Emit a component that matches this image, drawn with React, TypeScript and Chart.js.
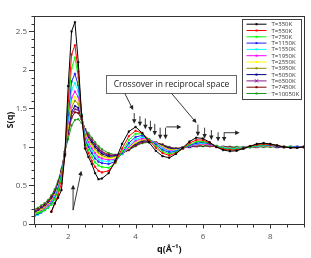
import React, { useEffect, useRef } from "react";
import { Chart, registerables } from "chart.js";

Chart.register(...registerables);

// q grid (Å⁻¹)
const Q = [
  1.0, 1.1, 1.2, 1.3, 1.4, 1.5, 1.6, 1.7, 1.8, 1.9,
  2.0, 2.1, 2.2, 2.3, 2.4, 2.5, 2.6, 2.7, 2.8, 2.9,
  3.0, 3.2, 3.4, 3.6, 3.8, 4.0, 4.2, 4.4, 4.6, 4.8,
  5.0, 5.2, 5.4, 5.6, 5.8, 6.0, 6.2, 6.4, 6.6, 6.8,
  7.0, 7.2, 7.4, 7.6, 7.8, 8.0, 8.2, 8.4, 8.6, 8.8,
  9.0,
];

const S350 = [null, null, null, null, null, 0.16, 0.27, 0.34, 0.44, 0.90,
  1.79, 2.50, 2.62, 2.10, 1.40, 0.98, 0.87, 0.78, 0.66, 0.58,
  0.59, 0.66, 0.82, 1.04, 1.20, 1.26, 1.18, 1.06, 0.95, 0.88,
  0.86, 0.91, 0.99, 1.07, 1.12, 1.11, 1.06, 1.00, 0.96, 0.945,
  0.95, 0.98, 1.01, 1.04, 1.05, 1.04, 1.02, 1.00, 0.99, 0.99,
  1.00];
const S550 = [null, null, null, null, null, 0.16, 0.26, 0.38, 0.53, 0.88,
  1.60, 2.20, 2.32, 1.98, 1.40, 1.03, 0.92, 0.82, 0.74, 0.69,
  0.67, 0.69, 0.80, 0.98, 1.14, 1.21, 1.18, 1.09, 0.99, 0.92,
  0.89, 0.92, 0.98, 1.05, 1.09, 1.09, 1.05, 1.00, 0.97, 0.96,
  0.96, 0.98, 1.01, 1.03, 1.04, 1.03, 1.02, 1.00, 0.99, 0.99,
  1.00];
const S750 = [0.12, 0.14, 0.16, 0.18, 0.21, 0.25, 0.32, 0.43, 0.60, 0.89,
  1.50, 2.02, 2.16, 1.90, 1.41, 1.07, 0.96, 0.87, 0.80, 0.76,
  0.74, 0.73, 0.79, 0.94, 1.09, 1.17, 1.17, 1.10, 1.01, 0.94,
  0.91, 0.93, 0.98, 1.03, 1.07, 1.07, 1.05, 1.01, 0.98, 0.97,
  0.97, 0.98, 1.00, 1.02, 1.03, 1.03, 1.02, 1.00, 1.00, 0.99,
  1.00];
const S1150 = [0.11, 0.13, 0.15, 0.18, 0.21, 0.26, 0.33, 0.45, 0.62, 0.90,
  1.42, 1.85, 1.95, 1.80, 1.42, 1.10, 1.00, 0.92, 0.85, 0.81,
  0.79, 0.78, 0.81, 0.92, 1.05, 1.13, 1.15, 1.10, 1.03, 0.96,
  0.93, 0.94, 0.98, 1.02, 1.05, 1.06, 1.04, 1.01, 0.98, 0.97,
  0.97, 0.98, 1.00, 1.02, 1.03, 1.02, 1.01, 1.00, 1.00, 1.00,
  1.00];
const S1550 = [0.10, 0.12, 0.15, 0.18, 0.22, 0.27, 0.35, 0.46, 0.63, 0.90,
  1.36, 1.74, 1.83, 1.72, 1.42, 1.13, 1.03, 0.95, 0.89, 0.84,
  0.82, 0.81, 0.83, 0.91, 1.02, 1.10, 1.13, 1.10, 1.04, 0.98,
  0.94, 0.95, 0.98, 1.02, 1.04, 1.05, 1.04, 1.01, 0.99, 0.98,
  0.98, 0.99, 1.00, 1.01, 1.02, 1.02, 1.01, 1.00, 1.00, 1.00,
  1.00];
const S1950 = [0.12, 0.14, 0.17, 0.20, 0.24, 0.29, 0.36, 0.47, 0.64, 0.91,
  1.32, 1.64, 1.72, 1.65, 1.41, 1.16, 1.06, 0.98, 0.92, 0.87,
  0.85, 0.83, 0.84, 0.91, 1.00, 1.08, 1.11, 1.10, 1.05, 0.99,
  0.95, 0.95, 0.98, 1.01, 1.03, 1.04, 1.03, 1.01, 0.99, 0.98,
  0.98, 0.99, 1.00, 1.01, 1.02, 1.02, 1.01, 1.00, 1.00, 1.00,
  1.00];
const S2550 = [0.13, 0.15, 0.18, 0.21, 0.25, 0.30, 0.37, 0.48, 0.65, 0.91,
  1.28, 1.57, 1.65, 1.60, 1.40, 1.18, 1.08, 1.01, 0.95, 0.90,
  0.87, 0.85, 0.86, 0.91, 0.99, 1.06, 1.10, 1.09, 1.05, 1.00,
  0.96, 0.96, 0.98, 1.01, 1.03, 1.03, 1.03, 1.01, 0.99, 0.98,
  0.98, 0.99, 1.00, 1.01, 1.02, 1.01, 1.01, 1.00, 1.00, 1.00,
  1.00];
const S3950 = [0.14, 0.16, 0.19, 0.22, 0.26, 0.31, 0.38, 0.49, 0.66, 0.92,
  1.25, 1.52, 1.60, 1.56, 1.39, 1.20, 1.10, 1.03, 0.97, 0.92,
  0.89, 0.86, 0.87, 0.91, 0.98, 1.05, 1.09, 1.09, 1.06, 1.01,
  0.97, 0.96, 0.98, 1.01, 1.02, 1.03, 1.02, 1.01, 1.00, 0.99,
  0.99, 0.99, 1.00, 1.01, 1.01, 1.01, 1.01, 1.00, 1.00, 1.00,
  1.00];
const S5050 = [0.15, 0.17, 0.20, 0.23, 0.27, 0.32, 0.40, 0.51, 0.67, 0.92,
  1.22, 1.46, 1.53, 1.51, 1.38, 1.21, 1.12, 1.06, 1.00, 0.95,
  0.91, 0.88, 0.88, 0.91, 0.97, 1.04, 1.08, 1.08, 1.06, 1.02,
  0.98, 0.97, 0.99, 1.00, 1.02, 1.02, 1.02, 1.01, 1.00, 0.99,
  0.99, 0.99, 1.00, 1.01, 1.01, 1.01, 1.00, 1.00, 1.00, 1.00,
  1.00];
const S6500 = [0.16, 0.18, 0.21, 0.24, 0.28, 0.33, 0.41, 0.52, 0.68, 0.93,
  1.20, 1.42, 1.49, 1.48, 1.37, 1.22, 1.14, 1.08, 1.02, 0.97,
  0.93, 0.89, 0.89, 0.92, 0.97, 1.03, 1.07, 1.08, 1.06, 1.02,
  0.99, 0.97, 0.99, 1.00, 1.01, 1.02, 1.02, 1.01, 1.00, 0.99,
  0.99, 0.99, 1.00, 1.00, 1.01, 1.01, 1.00, 1.00, 1.00, 1.00,
  1.00];
const S7450 = [0.17, 0.19, 0.22, 0.25, 0.29, 0.35, 0.42, 0.53, 0.69, 0.93,
  1.17, 1.38, 1.45, 1.44, 1.36, 1.23, 1.15, 1.09, 1.03, 0.98,
  0.94, 0.90, 0.89, 0.92, 0.96, 1.02, 1.06, 1.07, 1.06, 1.03,
  0.99, 0.98, 0.99, 1.00, 1.01, 1.02, 1.01, 1.01, 1.00, 1.00,
  0.99, 0.99, 1.00, 1.00, 1.01, 1.01, 1.00, 1.00, 1.00, 1.00,
  1.00];
const S10050 = [0.19, 0.21, 0.24, 0.27, 0.31, 0.37, 0.45, 0.56, 0.71, 0.94,
  1.10, 1.28, 1.35, 1.36, 1.31, 1.23, 1.18, 1.12, 1.06, 1.01,
  0.97, 0.92, 0.90, 0.92, 0.96, 1.01, 1.05, 1.06, 1.05, 1.03,
  1.00, 0.98, 0.99, 1.00, 1.01, 1.01, 1.01, 1.01, 1.00, 1.00,
  1.00, 1.00, 1.00, 1.00, 1.00, 1.00, 1.00, 1.00, 1.00, 1.00,
  1.00];

const SERIES = [S350, S550, S750, S1150, S1550, S1950, S2550, S3950, S5050, S6500, S7450, S10050];
const LABELS = ["T=350K", "T=550K", "T=750K", "T=1150K", "T=1550K", "T=1950K",
  "T=2550K", "T=3950K", "T=5050K", "T=6500K", "T=7450K", "T=10050K"];
const COLORS = ["#000000", "#ff0000", "#00ff00", "#2020ff", "#00ffff", "#ff00ff",
  "#ffff00", "#8c8c00", "#000090", "#8a1a8a", "#800000", "#1a9a1a"];

const X_TICKS = [2, 4, 6, 8];
const Y_TICKS = [0, 0.5, 1, 1.5, 2, 2.5];
const NOTE = "Crossover in reciprocal space";

// annotation geometry in data units [q1, s1, q2, s2]
const NOTE_BOX = [3.12, 1.935, 6.99, 1.70];
const ARROWS = [
  [3.68, 1.695, 3.93, 1.48],
  [3.96, 1.44, 3.96, 1.30],
  [4.13, 1.40, 4.13, 1.27],
  [4.29, 1.37, 4.29, 1.23],
  [4.44, 1.34, 4.44, 1.20],
  [4.57, 1.30, 4.57, 1.15],
  [4.73, 1.25, 4.73, 1.10],
  [4.89, 1.25, 4.89, 1.10],
  [4.91, 1.26, 5.36, 1.26],
  [5.07, 1.695, 5.81, 1.31],
  [5.85, 1.29, 5.85, 1.14],
  [6.05, 1.25, 6.05, 1.11],
  [6.25, 1.22, 6.25, 1.09],
  [6.45, 1.19, 6.45, 1.07],
  [6.63, 1.19, 6.63, 1.07],
  [6.63, 1.185, 7.09, 1.185],
  [2.145, 0.18, 2.145, 0.51],
  [2.145, 0.18, 2.39, 0.69],
];

function arrow(ctx: CanvasRenderingContext2D, x1: number, y1: number, x2: number, y2: number) {
  const a = Math.atan2(y2 - y1, x2 - x1);
  const len = 4.5, hw = 2.2;
  ctx.beginPath();
  ctx.moveTo(x1, y1);
  ctx.lineTo(x2 - Math.cos(a) * len * 0.6, y2 - Math.sin(a) * len * 0.6);
  ctx.stroke();
  ctx.beginPath();
  ctx.moveTo(x2, y2);
  ctx.lineTo(x2 - Math.cos(a) * len - Math.sin(a) * hw, y2 - Math.sin(a) * len + Math.cos(a) * hw);
  ctx.lineTo(x2 - Math.cos(a) * len + Math.sin(a) * hw, y2 - Math.sin(a) * len - Math.cos(a) * hw);
  ctx.closePath();
  ctx.fill();
}

const decor = {
  id: "decor",
  afterDatasetsDraw(chart: any) {
    const { ctx, chartArea: ca, scales } = chart;
    const xs = scales.x, ys = scales.y;
    ctx.save();
    const L = Math.floor(ca.left) + 0.5, R = Math.floor(ca.right) + 0.5;
    const T = Math.floor(ca.top) + 0.5, B = Math.floor(ca.bottom) + 0.5;
    ctx.strokeStyle = "#333";
    ctx.lineWidth = 1;
    ctx.strokeRect(L, T, R - L, B - T);
    ctx.beginPath();
    for (let k = 0; k <= 16; k++) {
      const v = 1 + k * 0.5;
      const px = Math.round(xs.getPixelForValue(v)) + 0.5;
      const len = v % 2 === 0 ? 4 : 3;
      ctx.moveTo(px, B);
      ctx.lineTo(px, B + len);
    }
    for (let k = 0; k <= 27; k++) {
      const py = Math.round(ys.getPixelForValue(k / 10)) + 0.5;
      const len = k % 5 === 0 ? 5.5 : 3;
      ctx.moveTo(L, py);
      ctx.lineTo(L - len, py);
    }
    ctx.stroke();

    // annotation box
    const bx1 = Math.round(xs.getPixelForValue(NOTE_BOX[0])) + 0.5;
    const by1 = Math.round(ys.getPixelForValue(NOTE_BOX[1])) + 0.5;
    const bx2 = Math.round(xs.getPixelForValue(NOTE_BOX[2])) + 0.5;
    const by2 = Math.round(ys.getPixelForValue(NOTE_BOX[3])) + 0.5;
    ctx.fillStyle = "#fff";
    ctx.fillRect(bx1, by1, bx2 - bx1, by2 - by1);
    ctx.strokeStyle = "#666";
    ctx.strokeRect(bx1, by1, bx2 - bx1, by2 - by1);
    ctx.fillStyle = "#222";
    ctx.font = "8.5px 'Open Sans', sans-serif";
    ctx.textAlign = "center";
    ctx.textBaseline = "middle";
    ctx.fillText(NOTE, (bx1 + bx2) / 2, (by1 + by2) / 2 + 0.5);

    // arrows
    ctx.strokeStyle = "#222";
    ctx.fillStyle = "#222";
    ctx.lineWidth = 0.9;
    for (const [q1, s1, q2, s2] of ARROWS) {
      arrow(ctx, xs.getPixelForValue(q1), ys.getPixelForValue(s1), xs.getPixelForValue(q2), ys.getPixelForValue(s2));
    }

    // legend
    const lx = Math.floor(ca.right - 62) + 0.5;
    const ly = Math.floor(ca.top + 3) + 0.5;
    const lw = 59, lh = 80;
    ctx.fillStyle = "#fff";
    ctx.fillRect(lx, ly, lw, lh);
    ctx.strokeStyle = "#444";
    ctx.lineWidth = 1;
    ctx.strokeRect(lx, ly, lw, lh);
    ctx.font = "6px 'Open Sans', sans-serif";
    ctx.textAlign = "left";
    ctx.textBaseline = "middle";
    LABELS.forEach((lab, i) => {
      const yy = ly + 4.7 + i * 6.3;
      ctx.strokeStyle = COLORS[i];
      ctx.fillStyle = COLORS[i];
      ctx.lineWidth = 1;
      ctx.beginPath();
      ctx.moveTo(lx + 4, yy);
      ctx.lineTo(lx + 24, yy);
      ctx.stroke();
      if (i === 9) {
        ctx.beginPath();
        ctx.moveTo(lx + 12.5, yy - 1.6); ctx.lineTo(lx + 15.5, yy + 1.6);
        ctx.moveTo(lx + 12.5, yy + 1.6); ctx.lineTo(lx + 15.5, yy - 1.6);
        ctx.stroke();
      } else {
        ctx.fillRect(lx + 13, yy - 1, 2, 2);
      }
      ctx.fillStyle = "#333";
      ctx.fillText(lab, lx + 29, yy + 0.3);
    });
    ctx.restore();
  },
};

export default function App() {
  const ref = useRef<HTMLCanvasElement | null>(null);
  useEffect(() => {
    if (!ref.current) return;
    Chart.defaults.font.family = "'Open Sans', sans-serif";
    const chart = new Chart(ref.current, {
      type: "line",
      data: {
        datasets: SERIES.map((s, i) => ({
          label: LABELS[i],
          data: Q.map((q, j) => ({ x: q, y: s[j] })),
          borderColor: COLORS[i],
          backgroundColor: COLORS[i],
          borderWidth: 1,
          pointRadius: i === 9 ? 1.8 : 1.1,
          pointStyle: i === 9 ? "crossRot" : "rect",
          pointBorderWidth: i === 9 ? 0.8 : 0.5,
          pointBorderColor: COLORS[i],
          tension: 0,
          fill: false,
          spanGaps: false,
        })),
      },
      options: {
        responsive: false,
        animation: false,
        layout: { padding: { left: 0, top: 16, right: 7, bottom: 0 } },
        plugins: { legend: { display: false }, tooltip: { enabled: false } },
        scales: {
          x: {
            type: "linear",
            min: 1,
            max: 9,
            afterBuildTicks: (s: any) => { s.ticks = X_TICKS.map((v) => ({ value: v })); },
            afterFit: (s: any) => { s.height = 34; },
            grid: { display: false, drawTicks: false },
            border: { display: false },
            ticks: { padding: 8, color: "#555", font: { size: 8 }, maxRotation: 0, callback: (v: any) => String(v) },
            title: { display: true, text: "q(Å⁻¹)", color: "#111", font: { size: 9, weight: "bold" }, padding: { top: 0, bottom: 3.5 } },
          },
          y: {
            type: "linear",
            min: 0,
            max: 2.7,
            afterBuildTicks: (s: any) => { s.ticks = Y_TICKS.map((v) => ({ value: v })); },
            afterFit: (s: any) => { s.width = 34.5; },
            grid: { display: false, drawTicks: false },
            border: { display: false },
            ticks: { padding: 7.5, color: "#555", font: { size: 8 }, callback: (v: any) => String(v) },
            title: { display: true, text: "S(q)", color: "#111", font: { size: 9, weight: "bold" }, padding: { top: 5, bottom: 0 } },
          },
        },
      },
      plugins: [decor],
    });
    return () => chart.destroy();
  }, []);
  return (
    <div style={{ position: "fixed", left: 0, top: 0, width: 311, height: 258, background: "#fff" }}>
      <canvas ref={ref} width={311} height={258} />
    </div>
  );
}
